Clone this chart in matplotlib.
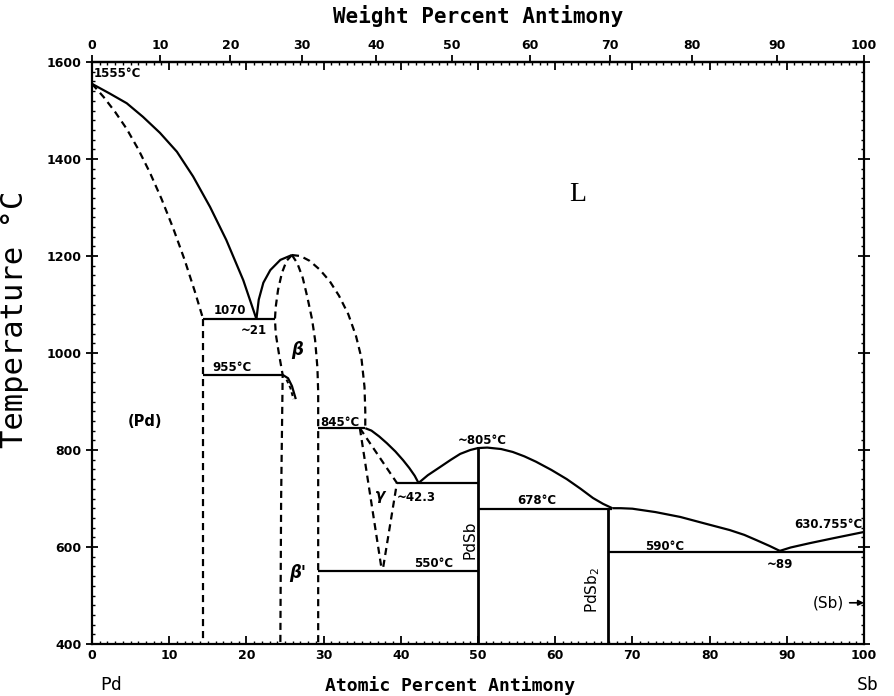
import numpy as np
import matplotlib
matplotlib.use("Agg")
import matplotlib.pyplot as plt

# Pd-Sb phase diagram, temperatures in degC, compositions in at.% Sb
M_PD, M_SB = 106.42, 121.76

# Pd-rich liquidus and solidus
liq_pd_x = [0, 2.3, 4.5, 6.6, 8.8, 11.0, 13.1, 15.3, 17.4, 19.6, 21.3]
liq_pd_t = [1555, 1535, 1515, 1487, 1454, 1415, 1364, 1301, 1233, 1150, 1070]
sol_pd_x = [0, 1.5, 3.0, 4.5, 6.0, 7.5, 9.0, 10.5, 12.0, 13.3, 14.4]
sol_pd_t = [1555, 1528, 1497, 1462, 1420, 1372, 1318, 1258, 1192, 1128, 1070]

# beta phase
liq_b_x = [21.3, 21.6, 22.2, 23.1, 24.4, 25.9]
liq_b_t = [1070, 1110, 1145, 1171, 1192, 1202]
b_left_x = [25.9, 25.2, 24.6, 24.1, 23.8, 23.7, 23.8, 24.2, 24.7, 24.5, 24.4]
b_left_t = [1202, 1190, 1165, 1130, 1095, 1070, 1040, 1000, 955, 700, 400]
b_mid_x = [25.9, 26.6, 27.3, 27.9, 28.5, 28.9, 29.2, 29.3, 29.3]
b_mid_t = [1202, 1185, 1155, 1115, 1070, 1027, 970, 920, 400]
b_out_x = [25.9, 27.0, 28.2, 29.5, 30.8, 32.0, 33.2, 34.2, 34.9, 35.3, 35.4, 35.4]
b_out_t = [1202, 1200, 1190, 1172, 1148, 1118, 1080, 1035, 990, 930, 880, 845]
bp_solid_x = [24.7, 25.4, 25.9, 26.4]
bp_solid_t = [955, 948, 932, 905]
bp_dash_x = [25.2, 25.7, 26.1]
bp_dash_t = [945, 928, 905]

# gamma phase
liq_g_x = [35.4, 36.2, 37.2, 38.2, 39.3, 40.3, 41.1, 41.8, 42.3]
liq_g_t = [845, 840, 828, 814, 797, 779, 763, 747, 732]
g_left_x = [34.7, 37.5]
g_left_t = [845, 556]
g_right_x = [34.7, 39.5, 37.7]
g_right_t = [845, 732, 556]

# PdSb and Sb-rich liquidus
liq_pdsb_x = [42.3, 43.5, 45.1, 46.5, 47.7, 49.0, 50.0, 51.2, 53.0, 54.5,
              56.0, 57.5, 59.5, 61.5, 63.3, 64.9, 66.2, 67.4]
liq_pdsb_t = [732, 748, 765, 780, 792, 800, 804, 805, 802, 796,
              787, 776, 759, 740, 720, 701, 689, 680]
liq_sb1_x = [67.4, 68.5, 70.0, 73.0, 76.2, 79.5, 82.6, 84.5, 86.1, 87.8, 89.1]
liq_sb1_t = [680, 680, 679, 672, 662, 648, 635, 625, 614, 602, 592]
liq_sb2_x = [89.1, 90.5, 93.0, 96.0, 100]
liq_sb2_t = [592, 599, 608, 618, 631]

# invariant lines: (x_start, x_end, T)
isotherms = [(14.4, 23.7, 1070), (14.4, 24.7, 955), (29.3, 35.4, 845),
             (39.5, 50.0, 732), (29.3, 50.0, 550), (50.0, 67.4, 678),
             (66.8, 100, 590)]
# compound lines: (x, T_top)
compounds = [(50.0, 805), (66.8, 678)]
dashed_verticals = [(14.4, 1070)]


def at_to_wt(a):
    a = np.asarray(a, dtype=float)
    return 100 * a * M_SB / (a * M_SB + (100 - a) * M_PD)


def wt_to_at(w):
    w = np.asarray(w, dtype=float)
    return 100 * (w / M_SB) / (w / M_SB + (100 - w) / M_PD)


fig = plt.figure(figsize=(8.94, 6.96), dpi=100)
ax = fig.add_axes([0.1029, 0.0747, 0.8635, 0.8362])

solid = dict(color="black", lw=1.6, solid_capstyle="butt")
dashed = dict(color="black", lw=1.6, ls=(0, (3.2, 2.2)))

ax.plot(liq_pd_x, liq_pd_t, **solid)
ax.plot(sol_pd_x, sol_pd_t, **dashed)
ax.plot(liq_b_x, liq_b_t, **solid)
ax.plot(b_left_x, b_left_t, **dashed)
ax.plot(b_mid_x, b_mid_t, **dashed)
ax.plot(b_out_x, b_out_t, **dashed)
ax.plot(bp_solid_x, bp_solid_t, **solid)
ax.plot(bp_dash_x, bp_dash_t, color="black", lw=1.4, ls=(0, (2, 1.5)))
ax.plot(liq_g_x, liq_g_t, **solid)
ax.plot(g_left_x, g_left_t, **dashed)
ax.plot(g_right_x, g_right_t, **dashed)
ax.plot(liq_pdsb_x, liq_pdsb_t, **solid)
ax.plot(liq_sb1_x, liq_sb1_t, **solid)
ax.plot(liq_sb2_x, liq_sb2_t, **solid)

for x0, x1, t in isotherms:
    ax.plot([x0, x1], [t, t], **solid)
for x, t in compounds:
    ax.plot([x, x], [t, 400], color="black", lw=2.0)
for x, t in dashed_verticals:
    ax.plot([x, x], [t, 400], **dashed)

ax.set_xlim(0, 100)
ax.set_ylim(400, 1600)
ax.set_xticks(np.arange(0, 101, 10))
ax.set_xticks(np.arange(0, 101, 1), minor=True)
ax.set_yticks(np.arange(400, 1601, 200))
ax.set_yticks(np.arange(400, 1601, 20), minor=True)
for s in ax.spines.values():
    s.set_linewidth(1.6)

ax.tick_params(axis="x", which="major", direction="in", length=6, width=1.3,
               top=True, labeltop=False)
ax.tick_params(axis="x", which="minor", direction="in", length=2.5, width=1.0,
               top=True)
ax.tick_params(axis="y", which="major", direction="inout", length=8, width=1.3,
               right=True)
ax.tick_params(axis="y", which="minor", direction="in", length=2.5, width=1.0,
               right=True)
ax.tick_params(labelsize=9)
for lab in ax.get_xticklabels() + ax.get_yticklabels():
    lab.set_fontweight("bold")

secax = ax.secondary_xaxis("top", functions=(at_to_wt, wt_to_at))
secax.set_xticks(np.arange(0, 101, 10))
secax.tick_params(direction="out", length=5, width=1.3, labelsize=9, pad=2)
for lab in secax.get_xticklabels():
    lab.set_fontweight("bold")
secax.spines["top"].set_linewidth(1.6)

mono = "DejaVu Sans Mono"
secax.set_xlabel("Weight Percent Antimony", family=mono, fontsize=15,
                 fontweight="bold", labelpad=12)
ax.set_xlabel("Atomic Percent Antimony", family=mono, fontsize=13,
              fontweight="bold")
ax.xaxis.set_label_coords(0.464, -0.055)
ax.set_ylabel("Temperature °C", family=mono, fontsize=22)
ax.yaxis.set_label_coords(-0.082, 0.557)

fig.text(100 / 894, 1 - 685 / 696, "Pd", family=mono, fontsize=13,
         ha="left", va="center")
fig.text(878 / 894, 1 - 685 / 696, "Sb", family=mono, fontsize=13,
         ha="right", va="center")

lab = dict(fontsize=8.5, fontweight="bold", color="black")
ax.text(0.2, 1577, "1555°C", ha="left", va="center", **lab)
ax.text(62.9, 1326, "L", family="Liberation Serif", fontsize=20,
        ha="center", va="center")
ax.text(6.9, 858, "(Pd)", fontsize=10.5, fontweight="bold",
        ha="center", va="center")
ax.text(17.9, 1088, "1070", ha="center", va="center", **lab)
ax.text(21.0, 1046, "~21", ha="center", va="center", **lab)
ax.text(18.1, 970, "955°C", ha="center", va="center", **lab)
ax.text(32.1, 857, "845°C", ha="center", va="center", **lab)
ax.text(26.6, 1006, "β", fontsize=12, fontweight="bold", style="italic",
        ha="center", va="center")
ax.text(26.6, 546, "β'", fontsize=12, fontweight="bold", style="italic",
        ha="center", va="center")
ax.text(37.3, 707, "γ", fontsize=11, fontweight="bold", style="italic",
        ha="center", va="center")
ax.text(42.0, 703, "~42.3", ha="center", va="center", **lab)
ax.text(50.5, 820, "~805°C", ha="center", va="center", **lab)
ax.text(57.6, 695, "678°C", ha="center", va="center", **lab)
ax.text(44.2, 566, "550°C", ha="center", va="center", **lab)
ax.text(74.2, 602, "590°C", ha="center", va="center", **lab)
ax.text(89.1, 563, "~89", ha="center", va="center", **lab)
ax.text(99.8, 647, "630.755°C", ha="right", va="center", **lab)
ax.text(49.0, 614, "PdSb", rotation=90, fontsize=11, ha="center",
        va="center")
ax.text(64.9, 511, "PdSb$_2$", rotation=90, fontsize=11, ha="center",
        va="center")
ax.annotate("(Sb)", xy=(100, 485), xytext=(95.4, 485), fontsize=11,
            ha="center", va="center",
            arrowprops=dict(arrowstyle="-|>", color="black", lw=1.2,
                            shrinkA=2, shrinkB=0, mutation_scale=8))

fig.savefig("out.png", dpi=100, facecolor="white")
